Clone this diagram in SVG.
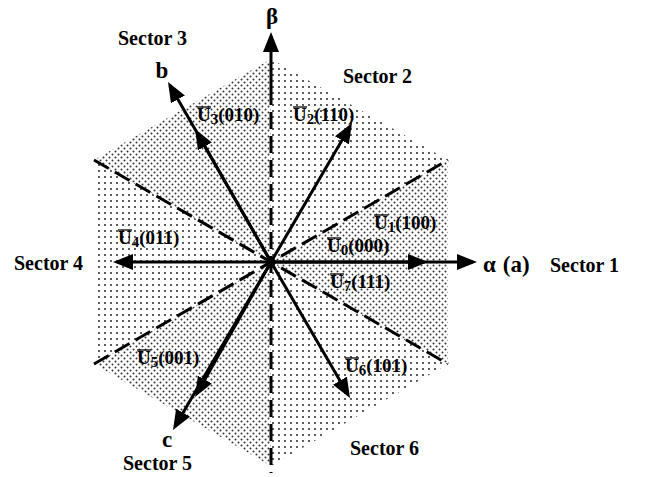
<svg xmlns="http://www.w3.org/2000/svg" width="645" height="477" viewBox="0 0 645 477">
<style>
.lbl{font-family:"Liberation Serif","Times New Roman",serif;font-weight:bold;fill:#000}
.u{font-size:19px}
.sub{font-size:15px}
.sec{font-size:20px}
.ax{font-size:23px}
.vec{stroke:#000;stroke-width:3;fill:none}
.dash{stroke:#000;stroke-width:3;fill:none;stroke-dasharray:17 7}
.ol{stroke:#000;stroke-width:1.3}
</style>
<defs>
<pattern id="dense" width="6" height="6" patternUnits="userSpaceOnUse">
<circle cx="1.5" cy="1.5" r="1" fill="#333"/>
<circle cx="4.5" cy="4.5" r="1" fill="#333"/>
</pattern>
<pattern id="sparse" width="6" height="6" patternUnits="userSpaceOnUse">
<circle cx="3" cy="3" r="1.05" fill="#333"/>
</pattern>
<marker id="ah" markerUnits="userSpaceOnUse" markerWidth="20" markerHeight="16" refX="16" refY="8" orient="auto">
<path d="M0,0 L20,8 L0,16 z" fill="#000"/>
</marker>
</defs>

<g id="sectors">
<polygon id="s1" points="271,262 448,160 448,364" fill="url(#dense)"/>
<polygon id="s2" points="271,262 271,59 448,160" fill="url(#sparse)"/>
<polygon id="s3" points="271,262 94,160 271,59" fill="url(#dense)"/>
<polygon id="s4" points="271,262 94,364 94,160" fill="url(#sparse)"/>
<polygon id="s5" points="271,262 271,466 94,364" fill="url(#dense)"/>
<polygon id="s6" points="271,262 448,364 271,466" fill="url(#sparse)"/>
</g>

<g id="connectors">
<line class="dash" x1="94" y1="160" x2="448" y2="364"/>
<line class="dash" x1="94" y1="364" x2="448" y2="160"/>
<line class="dash" x1="271" y1="88" x2="271" y2="473"/>
<line class="vec" x1="271" y1="88" x2="271" y2="36" marker-end="url(#ah)"/>
<line class="vec" x1="271" y1="262" x2="473" y2="262" marker-end="url(#ah)"/>
<line class="vec" x1="271" y1="262" x2="424" y2="262" marker-end="url(#ah)"/>
<line class="vec" x1="271" y1="262" x2="117" y2="262" marker-end="url(#ah)"/>
<line class="vec" x1="271" y1="262" x2="350" y2="126.5" marker-end="url(#ah)"/>
<line class="vec" x1="271" y1="262" x2="170" y2="85.5" marker-end="url(#ah)"/>
<line class="vec" x1="271" y1="262" x2="197" y2="132.5" marker-end="url(#ah)"/>
<line class="vec" x1="271" y1="262" x2="175" y2="426.5" marker-end="url(#ah)"/>
<line class="vec" x1="271" y1="262" x2="197" y2="393.5" marker-end="url(#ah)"/>
<line class="vec" x1="271" y1="262" x2="348" y2="394.5" marker-end="url(#ah)"/>
</g>

<g id="axis-labels">
<text class="lbl ax" x="272" y="24" text-anchor="middle">β</text>
<text class="lbl ax" x="483" y="272">α<tspan dx="7">(a)</tspan></text>
<text class="lbl ax" x="162" y="78" text-anchor="middle">b</text>
<text class="lbl ax" x="167" y="447" text-anchor="middle">c</text>
</g>

<g id="sector-labels">
<text class="lbl sec" x="118" y="45">Sector 3</text>
<text class="lbl sec" x="343" y="83">Sector 2</text>
<text class="lbl sec" x="14" y="270">Sector 4</text>
<text class="lbl sec" x="550" y="272">Sector 1</text>
<text class="lbl sec" x="123" y="470">Sector 5</text>
<text class="lbl sec" x="350" y="455">Sector 6</text>
</g>

<g id="U3">
<line class="ol" x1="197" y1="107" x2="211" y2="107"/>
<text class="lbl u" x="197" y="121">U<tspan class="sub" dy="3">3</tspan><tspan dy="-3">(010)</tspan></text>
</g>
<g id="U2">
<line class="ol" x1="293" y1="107" x2="307" y2="107"/>
<text class="lbl u" x="293" y="121">U<tspan class="sub" dy="3">2</tspan><tspan dy="-3">(110)</tspan></text>
</g>
<g id="U4">
<line class="ol" x1="118" y1="230" x2="132" y2="230"/>
<text class="lbl u" x="118" y="244">U<tspan class="sub" dy="3">4</tspan><tspan dy="-3">(011)</tspan></text>
</g>
<g id="U1">
<line class="ol" x1="374" y1="215" x2="388" y2="215"/>
<text class="lbl u" x="374" y="229">U<tspan class="sub" dy="3">1</tspan><tspan dy="-3">(100)</tspan></text>
</g>
<g id="U0">
<line class="ol" x1="327" y1="238" x2="341" y2="238"/>
<text class="lbl u" x="327" y="252">U<tspan class="sub" dy="3">0</tspan><tspan dy="-3">(000)</tspan></text>
</g>
<g id="U7">
<line class="ol" x1="330" y1="274" x2="344" y2="274"/>
<text class="lbl u" x="330" y="288">U<tspan class="sub" dy="3">7</tspan><tspan dy="-3">(111)</tspan></text>
</g>
<g id="U5">
<line class="ol" x1="137" y1="350" x2="151" y2="350"/>
<text class="lbl u" x="137" y="364">U<tspan class="sub" dy="3">5</tspan><tspan dy="-3">(001)</tspan></text>
</g>
<g id="U6">
<line class="ol" x1="345" y1="358" x2="359" y2="358"/>
<text class="lbl u" x="345" y="372">U<tspan class="sub" dy="3">6</tspan><tspan dy="-3">(101)</tspan></text>
</g>
</svg>
